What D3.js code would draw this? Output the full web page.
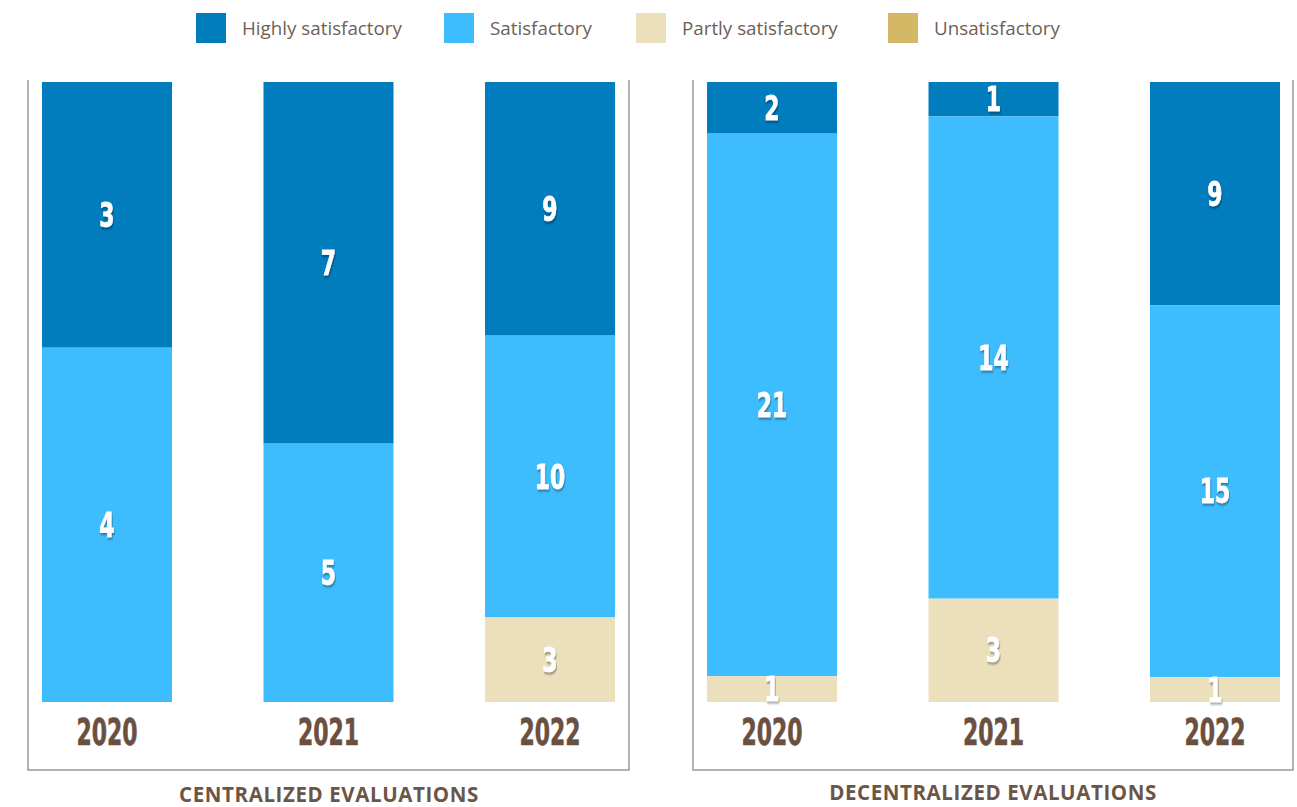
<!DOCTYPE html>
<html>
<meta charset="utf-8">
<script src="https://d3js.org/d3.v7.js"></script>
<style>
  body { margin: 0; background: #fff; }
  .num { font-family: "Liberation Sans Narrow", "DejaVu Sans Condensed", sans-serif; font-weight: bold; fill: #fff;
         stroke: #fff; stroke-width: 0.8px;
         filter: drop-shadow(1px 2px 1px rgba(0,0,0,0.35)); }
  .year { font-family: "Liberation Sans Narrow", "DejaVu Sans Condensed", sans-serif; font-weight: bold; fill: #6b4f3f;
          stroke: #6b4f3f; stroke-width: 0.6px; }
  .legend text { font-family: "Open Sans", sans-serif; font-size: 18.8px; fill: #6e5f55; }
  .title { font-family: "Open Sans", sans-serif; font-weight: bold; font-size: 20.5px; fill: #6b5546; letter-spacing: 0.6px; }
</style>
<body>
<div id="my_dataviz"></div>
</body>
<script type="text/javascript">
  // data
  var years = ["2020", "2021", "2022"]
  var categories = ["Highly satisfactory", "Satisfactory", "Partly satisfactory", "Unsatisfactory"]
  var colors = ["#017cbd", "#3ebdfe", "#ebdfbc", "#d5b866"]

  var centralHighly = [3, 7, 9]
  var centralSatisf = [4, 5, 10]
  var centralPartly = [0, 0, 3]
  var centralUnsat  = [0, 0, 0]

  var decentralHighly = [2, 1, 9]
  var decentralSatisf = [21, 14, 15]
  var decentralPartly = [1, 3, 1]
  var decentralUnsat  = [0, 0, 0]

  var panels = [
    { title: "CENTRALIZED EVALUATIONS", series: [centralHighly, centralSatisf, centralPartly, centralUnsat],
      range: [42, 615], frame: [28, 629], titleX: 329, titleY: 802 },
    { title: "DECENTRALIZED EVALUATIONS", series: [decentralHighly, decentralSatisf, decentralPartly, decentralUnsat],
      range: [707, 1280], frame: [693, 1293], titleX: 993, titleY: 800 }
  ]

  var width = 1297, height = 807
  var svg = d3.select("#my_dataviz").append("svg")
    .attr("width", width).attr("height", height)

  // legend
  var legendX = [196, 444, 636, 888]
  var legend = svg.append("g").attr("class", "legend")
  categories.forEach(function(c, i) {
    legend.append("rect").attr("x", legendX[i]).attr("y", 13).attr("width", 30).attr("height", 30).attr("fill", colors[i])
    legend.append("text").attr("x", legendX[i] + 46).attr("y", 35).text(c)
  })

  // stack from the top down: highly satisfactory on top
  var y = d3.scaleLinear().domain([0, 1]).range([82, 702])

  panels.forEach(function(p) {
    var rows = years.map(function(yr, i) {
      var r = { year: yr }
      categories.forEach(function(c, k) { r[c] = p.series[k][i] })
      return r
    })
    var stacked = d3.stack().keys(categories).offset(d3.stackOffsetExpand)(rows)

    var x = d3.scaleBand().domain(years).range(p.range).paddingInner(0.413).paddingOuter(0)

    var g = svg.append("g")

    // frame (open at top)
    g.append("path")
      .attr("d", "M" + p.frame[0] + ",80V770H" + p.frame[1] + "V80")
      .attr("fill", "none").attr("stroke", "#a39790").attr("stroke-width", 1.5)

    stacked.forEach(function(layer, k) {
      g.selectAll(null).data(layer).enter().append("rect")
        .attr("x", function(d) { return x(d.data.year) })
        .attr("y", function(d) { return y(d[0]) })
        .attr("width", x.bandwidth())
        .attr("height", function(d) { return y(d[1]) - y(d[0]) })
        .attr("fill", colors[k])
    })

    stacked.forEach(function(layer, k) {
      g.selectAll(null).data(layer.filter(function(d) { return d.data[categories[k]] > 0 })).enter()
        .append("text").attr("class", "num")
        .attr("text-anchor", "middle")
        .attr("transform", function(d) {
          var cx = x(d.data.year) + x.bandwidth() / 2
          var cy = (y(d[0]) + y(d[1])) / 2 + 12
          return "translate(" + cx + "," + cy + ") scale(0.72,1)"
        })
        .style("font-size", "34px")
        .text(function(d) { return d.data[categories[k]] })
    })

    // year labels
    g.selectAll(null).data(years).enter().append("text").attr("class", "year")
      .attr("text-anchor", "middle")
      .attr("transform", function(d) { return "translate(" + (x(d) + x.bandwidth() / 2) + ",745) scale(0.66,1)" })
      .style("font-size", "37px")
      .text(function(d) { return d })

    g.append("text").attr("class", "title")
      .attr("x", p.titleX).attr("y", p.titleY).attr("text-anchor", "middle")
      .text(p.title)
  })
</script>
</html>
